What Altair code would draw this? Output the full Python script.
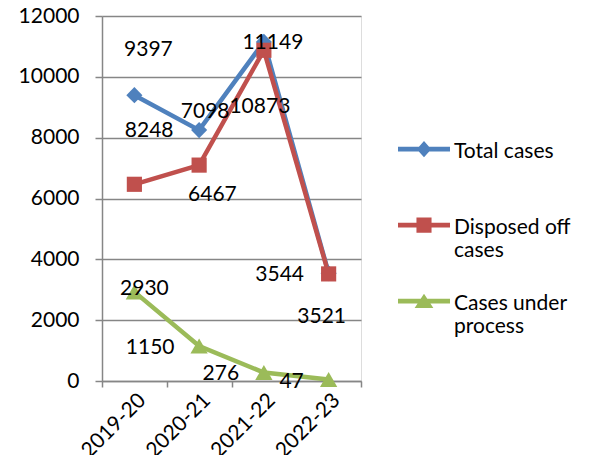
import altair as alt
import pandas as pd

categories = ["2019-20", "2020-21", "2021-22", "2022-23"]
series_names = ["Total cases", "Disposed off cases", "Cases under process"]
total_cases = [9397, 8248, 11149, 3544]
disposed_cases = [6467, 7098, 10873, 3521]
under_process = [2930, 1150, 276, 47]

# label offsets (pixels) as placed in the original chart
total_dx = [14, -50, 9, -49]
total_dy = [-45, 1, 1, 2]
disposed_dx = [78, 6, -4, -7]
disposed_dy = [11, -53, 57, 43]
under_dx = [10, -49, -43, -37]
under_dy = [-3, 2, 1, 2]

colors = ["#4F81BD", "#C0504D", "#9BBB59"]
marker_shapes = ["diamond", "square", "triangle-up"]
marker_sizes = [260, 230, 300]

FONT = "Lato"
FS = 21

rows = []
for name, vals, dxs, dys in [
    (series_names[0], total_cases, total_dx, total_dy),
    (series_names[1], disposed_cases, disposed_dx, disposed_dy),
    (series_names[2], under_process, under_dx, under_dy),
]:
    for c, v, dx, dy in zip(categories, vals, dxs, dys):
        rows.append({"series": name, "year": c, "value": v, "dx": dx, "dy": dy})
df = pd.DataFrame(rows)

# legend symbols: line segment + marker (unit square path), shifted up to the first text line
sh = -0.11
def line_part(s):
    t = 0.09
    return f"M-1,{s - t}L1,{s - t}L1,{s + t}L-1,{s + t}Z"

legend_paths = [
    line_part(sh) + f"M0,{sh - 0.31}L0.28,{sh}L0,{sh + 0.31}L-0.28,{sh}Z",
    line_part(sh) + f"M-0.29,{sh - 0.29}L0.29,{sh - 0.29}L0.29,{sh + 0.29}L-0.29,{sh + 0.29}Z",
    line_part(sh) + f"M0,{sh - 0.28}L0.36,{sh + 0.26}L-0.36,{sh + 0.26}Z",
]

x_enc = alt.X(
    "year:N",
    sort=categories,
    scale=alt.Scale(type="band", paddingInner=0, paddingOuter=0),
    axis=alt.Axis(
        title=None,
        labelAngle=-45,
        labelFontSize=FS,
        labelFont=FONT,
        labelColor="black",
        labelPadding=2,
        tickBand="extent",
        grid=False,
        ticks=True,
        tickSize=6,
        tickColor="#868686",
        tickWidth=1.5,
        domainColor="#868686",
        domainWidth=1.5,
    ),
)
y_enc = alt.Y(
    "value:Q",
    scale=alt.Scale(domain=[0, 12000], nice=False),
    axis=alt.Axis(
        title=None,
        values=[0, 2000, 4000, 6000, 8000, 10000, 12000],
        format="d",
        labelFontSize=FS,
        labelFont=FONT,
        labelColor="black",
        labelPadding=16,
        tickSize=7,
        tickColor="#868686",
        tickWidth=1.5,
        grid=True,
        gridColor="#868686",
        gridWidth=1.5,
        domainColor="#868686",
        domainWidth=1.5,
    ),
)

base = alt.Chart(df)

series_layers = []
for name, col, shp, sz in zip(series_names, colors, marker_shapes, marker_sizes):
    sub = base.transform_filter(alt.datum.series == name)
    series_layers.append(
        sub.mark_line(strokeWidth=4.5, color=col).encode(x=x_enc, y=y_enc)
    )
for name, col, shp, sz in zip(series_names, colors, marker_shapes, marker_sizes):
    sub = base.transform_filter(alt.datum.series == name)
    series_layers.append(
        sub.mark_point(filled=True, shape=shp, size=sz, opacity=1, color=col)
        .encode(x=x_enc, y=y_enc)
    )

labels = base.mark_text(
    fontSize=FS, font=FONT, color="black",
    dx={"expr": "datum.dx"}, dy={"expr": "datum.dy"},
).encode(x=x_enc, y=y_enc, text=alt.Text("value:Q", format="d"))

label_expr = (
    "datum.value == 'Total cases' ? ['Total cases', ' '] : "
    "datum.value == 'Disposed off cases' ? ['Disposed off', 'cases'] : "
    "['Cases under', 'process']"
)
leg = alt.Legend(
    title=None,
    orient="none",
    legendX=296,
    legendY=110,
    labelExpr=label_expr,
    labelFontSize=FS,
    labelFont=FONT,
    labelColor="black",
    labelLimit=300,
    labelOffset=4,
    labelBaseline="middle",
    symbolSize=2704,
    symbolStrokeWidth=0,
    symbolOpacity=1,
    rowPadding=17,
    padding=0,
)
# legend only: no marks drawn (empty after filter), scales have explicit domains
legend_layer = base.transform_filter("false").mark_point(filled=True).encode(
    x=x_enc, y=y_enc,
    color=alt.Color("series:N", scale=alt.Scale(domain=series_names, range=colors), legend=leg),
    shape=alt.Shape("series:N", scale=alt.Scale(domain=series_names, range=legend_paths), legend=leg),
)

chart = alt.layer(*series_layers, labels, legend_layer).properties(
    width=259,
    height=365,
    autosize="none",
    padding={"left": 94, "top": 8, "right": 227, "bottom": 74},
).configure_view(stroke=None).configure(font=FONT)

chart.save("out.html", embed_options={"renderer": "svg", "actions": False})
